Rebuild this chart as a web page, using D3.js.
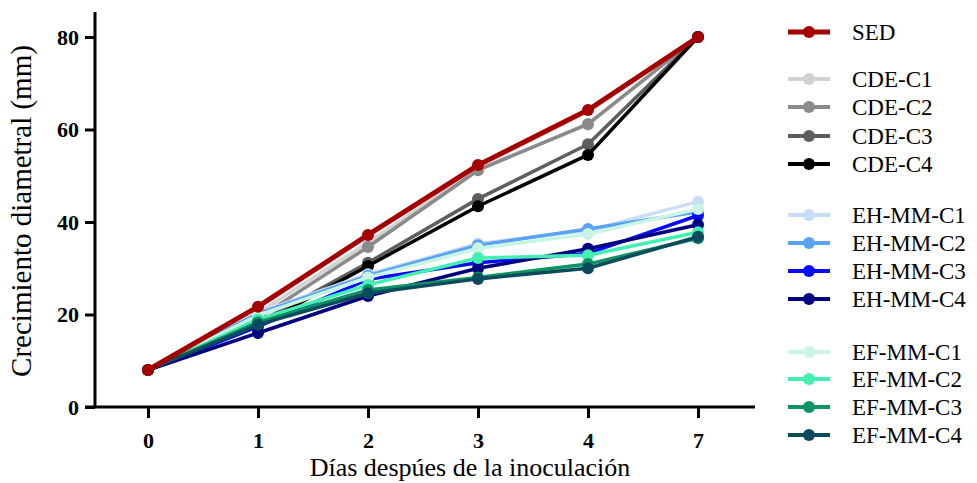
<!DOCTYPE html>
<html>
<head>
<meta charset="utf-8">
<script src="https://cdn.jsdelivr.net/npm/d3@7"></script>
<style>
  body { margin: 0; background: #fff; }
</style>
</head>
<body>
<script>
var serif = '"Liberation Serif", "DejaVu Serif", serif';

// days after inoculation (categorical)
var days = ['0', '1', '2', '3', '4', '7'];
var yTicks = [0, 20, 40, 60, 80];

var names = ['CDE-C1', 'CDE-C2', 'CDE-C3', 'CDE-C4',
             'EH-MM-C1', 'EH-MM-C2', 'EH-MM-C3', 'EH-MM-C4',
             'EF-MM-C1', 'EF-MM-C2', 'EF-MM-C3', 'EF-MM-C4', 'SED'];

var sed    = [8, 21.7, 37.2, 52.3, 64.2, 80];
var cdeC1  = [8, 20.3, 35.5, 51.5, 61.0, 80];
var cdeC2  = [8, 19.2, 34.6, 51.2, 61.2, 80];
var cdeC3  = [8, 18.2, 31.2, 45.0, 56.8, 80];
var cdeC4  = [8, 17.6, 30.5, 43.4, 54.5, 80];
var ehC1   = [8, 20.4, 28.7, 35.3, 38.2, 44.4];
var ehC2   = [8, 20.2, 28.4, 35.0, 38.5, 42.2];
var ehC3   = [8, 17.4, 27.6, 31.2, 33.2, 41.4];
var ehC4   = [8, 16.0, 24.0, 30.0, 34.2, 39.4];
var efC1   = [8, 19.8, 28.0, 34.3, 37.4, 42.8];
var efC2   = [8, 18.9, 26.4, 32.2, 32.8, 37.8];
var efC3   = [8, 18.3, 25.3, 28.0, 30.9, 36.5];
var efC4   = [8, 17.8, 24.6, 27.7, 30.0, 36.8];

var colors = ['#d2d2d2', '#8a8a8a', '#5e5e5e', '#000000',
              '#c8ddf6', '#5aa2f2', '#0a0aff', '#000080',
              '#c9f5e5', '#44efb2', '#0a9462', '#0b4b5b', '#a50000'];

var seriesValues = [cdeC1, cdeC2, cdeC3, cdeC4, ehC1, ehC2, ehC3, ehC4,
                    efC1, efC2, efC3, efC4, sed];

var series = names.map(function(n, i) {
    return { name: n, color: colors[i], values: seriesValues[i] };
});

var svg = d3.select('body').append('svg')
    .attr('width', 977).attr('height', 483);

var x = d3.scalePoint().domain(days).range([148, 698]);
var y = d3.scaleLinear().domain([0, 80]).range([407, 37]);

// axes
var yAxis = svg.append('g').attr('transform', 'translate(95,0)')
    .call(d3.axisLeft(y).tickValues(yTicks).tickSize(10).tickPadding(6));
yAxis.select('.domain').attr('d', 'M0,' + y(85.4) + 'V' + y(0));

var xAxis = svg.append('g').attr('transform', 'translate(0,407)')
    .call(d3.axisBottom(x).tickSize(11).tickPadding(14));
xAxis.select('.domain').attr('d', 'M85,0H755');

svg.selectAll('.domain').attr('stroke', '#000').attr('stroke-width', 3);
svg.selectAll('.tick line').attr('stroke', '#000').attr('stroke-width', 3);
svg.selectAll('.tick text')
    .attr('fill', '#000')
    .attr('font-size', 22)
    .attr('font-weight', 'bold')
    .attr('font-family', serif);

svg.append('text')
    .attr('transform', 'translate(31,211) rotate(-90)')
    .attr('text-anchor', 'middle')
    .attr('font-family', serif)
    .attr('font-size', 29)
    .text('Crecimiento diametral (mm)');

svg.append('text')
    .attr('x', 470).attr('y', 476)
    .attr('text-anchor', 'middle')
    .attr('font-family', serif)
    .attr('font-size', 26)
    .text('Días despúes de la inoculación');

// lines
var line = d3.line()
    .x(function(d, i) { return x(days[i]); })
    .y(function(d) { return y(d); });

var g = svg.selectAll('.series').data(series).enter()
    .append('g').attr('class', 'series');

g.append('path')
    .attr('d', function(d) { return line(d.values); })
    .attr('fill', 'none')
    .attr('stroke', function(d) { return d.color; })
    .attr('stroke-width', function(d) { return d.name === 'SED' ? 5 : 3.5; })
    .attr('stroke-linejoin', 'round');

g.selectAll('circle')
    .data(function(d) { return d.values.map(function(v, i) { return { v: v, i: i, c: d.color }; }); })
    .enter().append('circle')
    .attr('cx', function(d) { return x(days[d.i]); })
    .attr('cy', function(d) { return y(d.v); })
    .attr('r', 6)
    .attr('fill', function(d) { return d.c; });

// legend
var legendOrder = ['SED', 'CDE-C1', 'CDE-C2', 'CDE-C3', 'CDE-C4',
                   'EH-MM-C1', 'EH-MM-C2', 'EH-MM-C3', 'EH-MM-C4',
                   'EF-MM-C1', 'EF-MM-C2', 'EF-MM-C3', 'EF-MM-C4'];
var legendY = [32, 79, 107, 136, 164, 215, 243, 271, 299, 352, 379, 407, 435];

var lg = svg.selectAll('.legend').data(legendOrder).enter()
    .append('g').attr('class', 'legend')
    .attr('transform', function(d, i) { return 'translate(0,' + legendY[i] + ')'; });

lg.append('line')
    .attr('x1', 788).attr('x2', 830)
    .attr('stroke', function(d) { return colors[names.indexOf(d)]; })
    .attr('stroke-width', function(d) { return d === 'SED' ? 5 : 4; });
lg.append('circle')
    .attr('cx', 809).attr('r', 6)
    .attr('fill', function(d) { return colors[names.indexOf(d)]; });
lg.append('text')
    .attr('x', 852).attr('y', 8)
    .attr('font-family', serif)
    .attr('font-size', 23)
    .text(function(d) { return d; });
</script>
</body>
</html>
